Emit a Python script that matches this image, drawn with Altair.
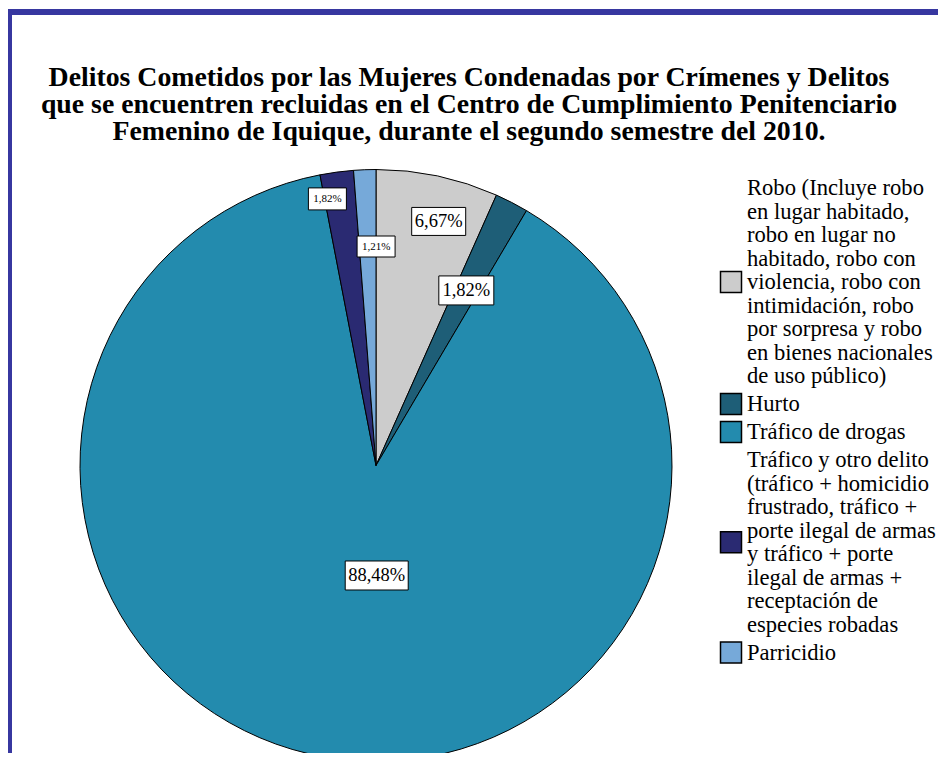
import altair as alt
import pandas as pd

# ---- data ----
categories = [
    "Robo (Incluye robo|en lugar habitado,|robo en lugar no|habitado, robo con|violencia, robo con|intimidación, robo|por sorpresa y robo|en bienes nacionales|de uso público)",
    "Hurto",
    "Tráfico de drogas",
    "Tráfico y otro delito|(tráfico + homicidio|frustrado, tráfico +|porte ilegal de armas|y tráfico + porte|ilegal de armas +|receptación de|especies robadas",
    "Parricidio",
]
percentages = [6.67, 1.82, 88.48, 1.82, 1.21]
title_lines = [
    "Delitos Cometidos por las Mujeres Condenadas por Crímenes y Delitos",
    "que se encuentren recluidas en el Centro de Cumplimiento Penitenciario",
    "Femenino de Iquique, durante el segundo semestre del 2010.",
]

# ---- styles ----
colors = ["#CCCCCC", "#1E5E77", "#238BAE", "#2A2A72", "#76A9D9"]
label_radius = [252, 197, 110, 271, 219]
label_shift = [2.4, 0.0, -10.2, -2.7, 2.2]
label_font = [18.5, 18.5, 18.5, 11, 11]
box_w = [54, 55, 63, 38, 38]
box_h = [28, 29, 29, 22, 21]

W, H = 736, 575
T = 170
R = 296
FRAME = "#3737A0"
SERIF = "Liberation Serif"
LEG_TOP = 10      # first legend line centre, px from plot top
LEG_LH = 23.5     # legend line height
LEG_GAP = 4.5     # extra gap between legend entries
LEG_SYM_X = 723
LEG_TXT_X = 739

df = pd.DataFrame({
    "category": categories,
    "value": percentages,
    "idx": list(range(len(categories))),
    "lr": label_radius,
    "shift": label_shift,
    "fs": label_font,
    "bw": box_w,
    "bh": box_h,
})

# legend tables built from the category names (one row per text line)
entry_rows, line_rows = [], []
slot = 0
for i, cat in enumerate(categories):
    parts = cat.split("|")
    n = len(parts)
    entry_rows.append({"category": cat, "idx": i, "slot": slot + (n - 1) / 2})
    for k, p in enumerate(parts):
        line_rows.append({"category": cat, "idx": i, "line": p, "slot": slot + k})
    slot += n
leg_entries = pd.DataFrame(entry_rows)
leg_lines = pd.DataFrame(line_rows)

cscale = alt.Scale(domain=categories, range=colors)

base = alt.Chart(df)

pie = base.mark_arc(outerRadius=R, stroke="black", strokeWidth=1).encode(
    theta=alt.Theta("value:Q", stack=True),
    order=alt.Order("idx:Q"),
    color=alt.Color("category:N", scale=cscale, legend=None),
)

pos = (
    base.transform_window(cum="sum(value)", sort=[alt.SortField("idx")])
    .transform_joinaggregate(total="sum(value)")
    .transform_calculate(
        ang="((datum.cum - datum.value / 2) / datum.total * 360 + datum.shift) * PI / 180",
    )
    .transform_calculate(
        lx="datum.lr * sin(datum.ang)",
        ly="-datum.lr * cos(datum.ang)",
        lbl="replace(format(datum.value, '.2f'), '.', ',') + '%'",
    )
    .transform_calculate(
        bx1="datum.lx - datum.bw / 2",
        bx2="datum.lx + datum.bw / 2",
        by1="datum.ly - datum.bh / 2",
        by2="datum.ly + datum.bh / 2",
    )
)

xs = alt.Scale(domain=[-W / 2, W / 2])
ys = alt.Scale(domain=[-H / 2, H / 2], reverse=True)

boxes = pos.mark_rect(fill="white", stroke="black", strokeWidth=1).encode(
    x=alt.X("bx1:Q", scale=xs, axis=None),
    x2="bx2:Q",
    y=alt.Y("by1:Q", scale=ys, axis=None),
    y2="by2:Q",
)

labels = pos.mark_text(font=SERIF, color="black", baseline="middle", align="center").encode(
    x=alt.X("lx:Q", scale=xs, axis=None),
    y=alt.Y("ly:Q", scale=ys, axis=None),
    text="lbl:N",
    size=alt.Size("fs:Q", scale=None),
)

leg_ypos = f"{LEG_TOP} + datum.slot * {LEG_LH} + datum.idx * {LEG_GAP}"

leg_sym = (
    alt.Chart(leg_entries)
    .transform_calculate(py=leg_ypos)
    .mark_square(size=441, opacity=1, stroke="black", strokeWidth=1.5)
    .encode(
        x=alt.value(LEG_SYM_X),
        y=alt.Y("py:Q", scale=None, axis=None),
        color=alt.Color("category:N", scale=cscale, legend=None),
    )
)

leg_txt = (
    alt.Chart(leg_lines)
    .transform_calculate(py=leg_ypos)
    .mark_text(font=SERIF, fontSize=22.6, color="black", align="left", baseline="middle")
    .encode(
        x=alt.value(LEG_TXT_X),
        y=alt.Y("py:Q", scale=None, axis=None),
        text="line:N",
    )
)

one = alt.Data(values=[{"k": 0}])

title = alt.Chart(one).mark_text(
    text=title_lines,
    font=SERIF,
    fontSize=27.8,
    fontWeight="bold",
    lineHeight=27,
    align="center",
    baseline="alphabetic",
    color="black",
).encode(x=alt.value(461), y=alt.value(-92))

frame_top = alt.Chart(one).mark_rule(color=FRAME, strokeWidth=6).encode(
    x=alt.value(-5), x2=alt.value(960), y=alt.value(-166)
)
frame_left = alt.Chart(one).mark_rule(color=FRAME, strokeWidth=5).encode(
    x=alt.value(1.5), y=alt.value(-169), y2=alt.value(H + 50)
)

chart = (
    alt.layer(pie, boxes, labels, leg_sym, leg_txt, title, frame_top, frame_left)
    .resolve_scale(x="shared", y="independent")
    .properties(
        width=W,
        height=H,
        autosize=alt.AutoSizeParams(type="none"),
        padding={"left": 0, "top": T, "right": 194, "bottom": 0},
        background="white",
    )
    .configure_view(stroke=None)
)

chart.save("out.html", embed_options={"renderer": "svg", "actions": False})
